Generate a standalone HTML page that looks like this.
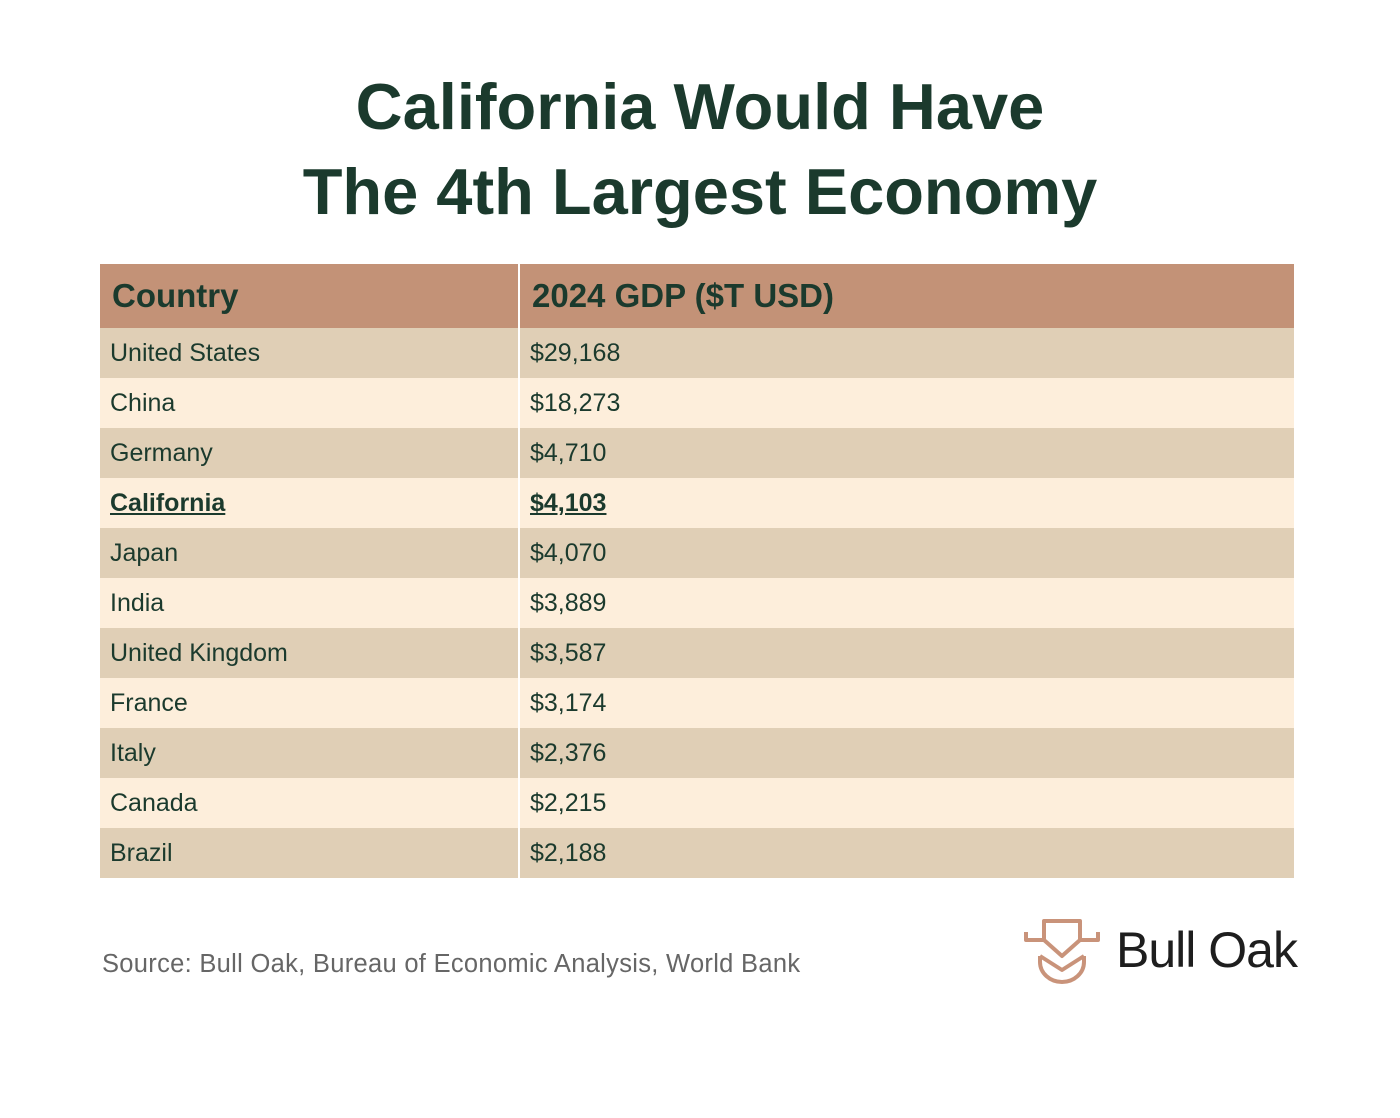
<!DOCTYPE html>
<html><head><style>
body{margin:0;width:1400px;height:1118px;background:#fff;font-family:"Liberation Sans",sans-serif;position:relative;overflow:hidden}
h1{position:absolute;top:64px;left:0;width:1400px;margin:0;text-align:center;font-size:65px;line-height:85px;font-weight:bold;color:#1b3a2d}
table{position:absolute;left:100px;top:264px;width:1194px;border-collapse:collapse}
td,th{padding:0 0 0 10px;text-align:left;color:#1b3a2d;font-size:25px;height:50px}
th{height:64px;background:#c39277;font-size:33px;font-weight:bold;padding-left:12px}
td:first-child,th:first-child{width:406px;border-right:2px solid #fff}
tr:nth-child(even) td{background:#e0cfb6}
tr:nth-child(odd) td{background:#fdeedb}
.b{font-weight:bold;text-decoration:underline}
.src{position:absolute;left:102px;top:950px;font-size:25.5px;color:#666;letter-spacing:0.3px}
.logo{position:absolute;left:1116px;top:921px;font-size:50px;color:#1e1e1e;letter-spacing:-1px}
</style></head><body>
<h1>California Would Have<br>The 4th Largest Economy</h1>
<table>
<tr><th>Country</th><th>2024 GDP ($T USD)</th></tr>
<tr><td>United States</td><td>$29,168</td></tr>
<tr><td>China</td><td>$18,273</td></tr>
<tr><td>Germany</td><td>$4,710</td></tr>
<tr><td class="b">California</td><td class="b">$4,103</td></tr>
<tr><td>Japan</td><td>$4,070</td></tr>
<tr><td>India</td><td>$3,889</td></tr>
<tr><td>United Kingdom</td><td>$3,587</td></tr>
<tr><td>France</td><td>$3,174</td></tr>
<tr><td>Italy</td><td>$2,376</td></tr>
<tr><td>Canada</td><td>$2,215</td></tr>
<tr><td>Brazil</td><td>$2,188</td></tr>
</table>
<div class="src">Source: Bull Oak, Bureau of Economic Analysis, World Bank</div>
<svg style="position:absolute;left:1022px;top:918px" width="80" height="68" viewBox="0 0 80 68" fill="none" stroke="#c9937a" stroke-width="4" stroke-linejoin="round">
<path d="M4 14 V22 H22 L40 38 L58 22 H76 V14"/>
<path d="M22 22 V3 H58 V22"/>
<path d="M18 38 L40 52 L62 38"/>
<path d="M18 38 V44 A22 20 0 0 0 62 44 V38"/>
</svg>
<div class="logo">Bull Oak</div>
</body></html>
